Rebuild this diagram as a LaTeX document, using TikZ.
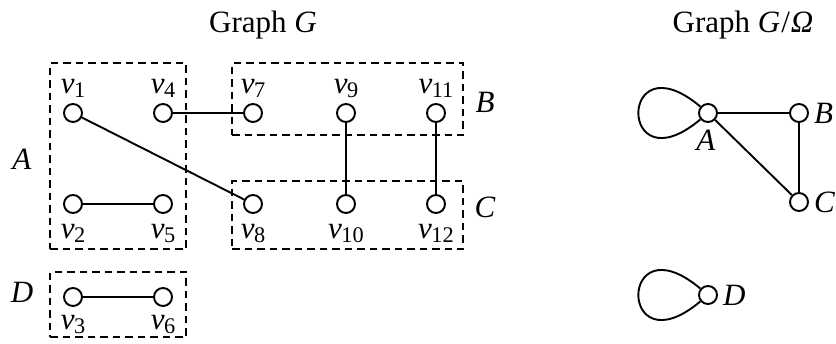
\documentclass[tikz,border=0pt]{standalone}
\usepackage{fontspec}
\setmainfont{Liberation Serif}
\usepackage{graphicx}
\newcommand\vlab[1]{\textit{v}\kern-0.5pt\raisebox{-0.32ex}{\scalebox{0.72}{#1}}}
\begin{document}
\begin{tikzpicture}[x=1pt,y=-1pt,
  vtx/.style={circle,draw,line width=1.9pt,minimum size=18pt,inner sep=0pt,fill=white},
  edge/.style={line width=1.9pt},
  groupbox/.style={draw,line width=1.8pt,dash pattern=on 7.5pt off 5pt,inner sep=0pt},
  lab/.style={font=\fontsize{31}{36}\selectfont,inner sep=0pt,anchor=base},
  every node/.style={font=\fontsize{31}{36}\selectfont}]
\useasboundingbox (0,0) rectangle (836,343);
% titles
\node[lab] (t1) at (263,32) {Graph \textit{G}};
\node[lab] (t2) at (743,32) {Graph \textit{G}\kern1pt/\kern1pt\textit{Ω}};
% group boxes
\node[groupbox,minimum width=136pt,minimum height=186pt] (boxA) at (118,156) {};
\node[groupbox,minimum width=136pt,minimum height=65pt] (boxD) at (118,304.5) {};
\node[groupbox,minimum width=231pt,minimum height=72pt] (boxB) at (347.5,99) {};
\node[groupbox,minimum width=231pt,minimum height=68pt] (boxC) at (347.5,215) {};
\node[lab] (lA) at (22,169) {\textit{A}};
\node[lab] (lD) at (22,302) {\textit{D}};
\node[lab] (lB) at (485,112) {\textit{B}};
\node[lab] (lC) at (485,217) {\textit{C}};
% vertices
\node[vtx] (v1) at (73,113) {};
\node[vtx] (v4) at (163,113) {};
\node[vtx] (v2) at (73,204) {};
\node[vtx] (v5) at (163,204) {};
\node[vtx] (v3) at (73,297) {};
\node[vtx] (v6) at (163,297) {};
\node[vtx] (v7) at (253,113) {};
\node[vtx] (v9) at (346,113) {};
\node[vtx] (v11) at (436,113) {};
\node[vtx] (v8) at (253,204) {};
\node[vtx] (v10) at (346,204) {};
\node[vtx] (v12) at (436,204) {};
\draw[edge] (v1) -- (v8);
\draw[edge] (v4) -- (v7);
\draw[edge] (v2) -- (v5);
\draw[edge] (v3) -- (v6);
\draw[edge] (v9) -- (v10);
\draw[edge] (v11) -- (v12);
% vertex labels
\node[lab] (n1) at (73,93) {\vlab{1}};
\node[lab] (n4) at (163,93) {\vlab{4}};
\node[lab] (n7) at (253,93) {\vlab{7}};
\node[lab] (n9) at (346,93) {\vlab{9}};
\node[lab] (n11) at (436,93) {\vlab{11}};
\node[lab] (n2) at (73,238) {\vlab{2}};
\node[lab] (n5) at (163,238) {\vlab{5}};
\node[lab] (n8) at (253,238) {\vlab{8}};
\node[lab] (n10) at (346,238) {\vlab{10}};
\node[lab] (n12) at (436,238) {\vlab{12}};
\node[lab] (n3) at (73,329) {\vlab{3}};
\node[lab] (n6) at (163,329) {\vlab{6}};
% quotient graph
\node[vtx] (A) at (708,113) {};
\node[vtx] (B) at (799,113) {};
\node[vtx] (C) at (799,202) {};
\node[vtx] (D) at (708,295) {};
\draw[edge] (A) -- (B);
\draw[edge] (A) -- (C);
\draw[edge] (B) -- (C);
\draw[edge] (A.140) .. controls +(220:108) and +(140:108) .. (A.220);
\draw[edge] (D.140) .. controls +(220:108) and +(140:108) .. (D.220);
\node[lab] (qA) at (706,150) {\textit{A}};
\node[anchor=west,inner sep=0pt] (qB) at ([xshift=5pt]B.east) {\textit{B}};
\node[anchor=west,inner sep=0pt] (qC) at ([xshift=5pt]C.east) {\textit{C}};
\node[anchor=west,inner sep=0pt] (qD) at ([xshift=5pt]D.east) {\textit{D}};
\end{tikzpicture}
\end{document}
